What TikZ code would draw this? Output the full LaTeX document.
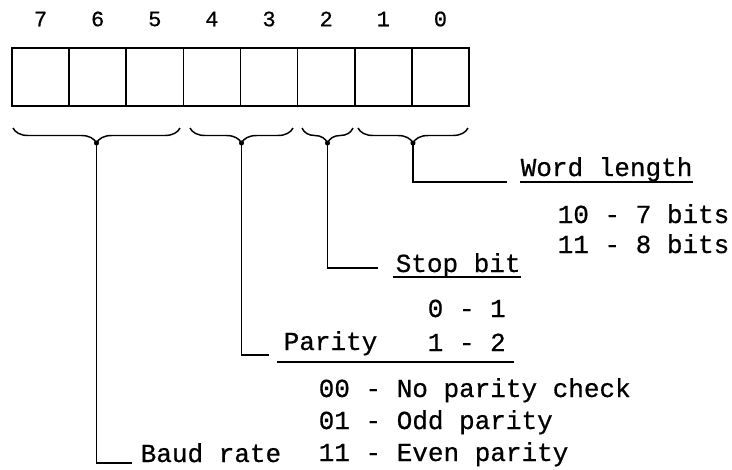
\documentclass[tikz,border=0pt]{standalone}
\usepackage{fontspec}
\newfontfamily\regfont[FakeBold=0.6]{Liberation Mono}
\usetikzlibrary{decorations.pathreplacing, calc}

\begin{document}
\begin{tikzpicture}[
  x=0.75pt, y=-0.75pt,
  line width=1.1pt,
  cell/.style={rectangle, draw, line width=1.3pt, minimum width=42.84pt,
               minimum height=43.5pt, inner sep=0pt},
  bitno/.style={font=\regfont\fontsize{16.5}{18}\selectfont, inner sep=0pt},
  txt/.style={font=\regfont\fontsize{19.5}{22}\selectfont, anchor=base west,
              inner sep=0pt},
  grp/.style={decorate, decoration={brace, mirror, amplitude=11.25pt}},
  lead/.style={line width=1.1pt},
  uline/.style={line width=1pt},
]
\useasboundingbox (0,0) rectangle (732,469);

% ---- register ----
\foreach \b [count=\i from 0] in {7,...,0} {
  \node[cell]  (c\b) at ({40.56+57.125*\i}, 77) {};
  \node[bitno] (n\b) at ({40.56+57.125*\i}, 19) {\b};
}

% ---- braces ----
\draw[grp] (13,128)  -- (180,128);
\draw[grp] (190,128) -- (293,128);
\draw[grp] (302,128) -- (353,128);
\draw[grp] (358,128) -- (468,128);

\coordinate (baud-tip)   at (96.5,143);
\coordinate (parity-tip) at (241.5,143);
\coordinate (stop-tip)   at (327.5,143);
\coordinate (word-tip)   at (413,143);

\foreach \t in {baud-tip, parity-tip, stop-tip, word-tip}
  \fill (\t) circle[radius=1.9pt];

% ---- labels ----
\node[txt] (word)   at (520,176) {Word length};
\node[txt] (word-a) at (557,223) {10 - 7 bits};
\node[txt] (word-b) at (557,253) {11 - 8 bits};

\node[txt] (stop)   at (395,272) {Stop bit};
\node[txt] (stop-a) at (427,317) {0 - 1};
\node[txt] (stop-b) at (427,351) {1 - 2};

\node[txt] (parity)   at (283,350) {Parity};
\node[txt] (parity-a) at (318,397) {00 - No parity check};
\node[txt] (parity-b) at (318,429) {01 - Odd parity};
\node[txt] (parity-c) at (318,461) {11 - Even parity};

\node[txt] (baud) at (140,462) {Baud rate};

% ---- underlines ----
\draw[uline] ($(word.base west)+(0,6)$) -- ($(word.base east)+(0,6)$);
\draw[uline] ($(stop.base west)+(-2,5)$) -- ($(stop.base east)+(0,5)$);
\draw[uline] ($(parity.base west)+(-6,12)$) -- ($(stop-b.base east)+(8,11)$);

% ---- leaders ----
\coordinate (word-end)   at (507,182);
\coordinate (stop-end)   at (378,268);
\coordinate (parity-end) at (269,355);
\coordinate (baud-end)   at (132,463);

\draw[lead] (word-tip)   |- (word-end);
\draw[lead] (stop-tip)   |- (stop-end);
\draw[lead] (parity-tip) |- (parity-end);
\draw[lead] (baud-tip)   |- (baud-end);

\end{tikzpicture}
\end{document}
